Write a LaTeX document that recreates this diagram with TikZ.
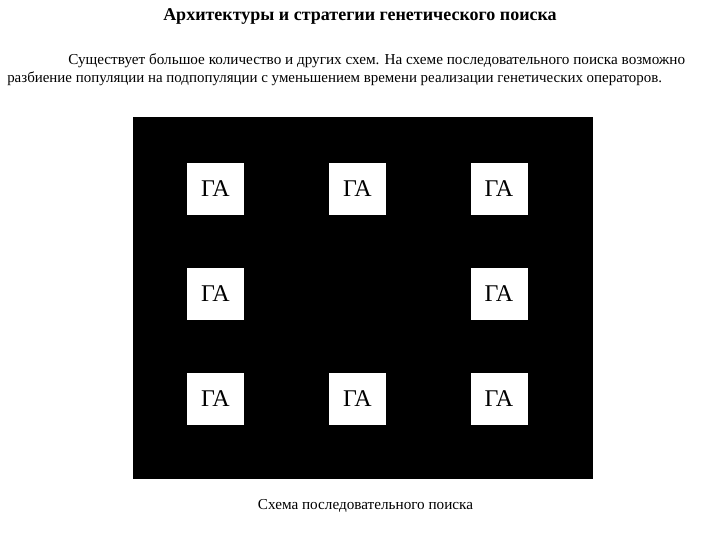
\documentclass[tikz,border=0pt]{standalone}
\usepackage{fontspec}
\setmainfont{Liberation Serif}
\begin{document}
\begin{tikzpicture}[x=0.75pt,y=-0.75pt,
  txt/.style={inner sep=0pt,anchor=base west},
  gabox/.style={fill=white,draw=none,minimum width=57*0.75pt,minimum height=52*0.75pt,inner sep=0pt,font=\fontsize{18}{20}\selectfont}]
\useasboundingbox (0,0) rectangle (720,540);
\node[inner sep=0pt,anchor=base,font=\fontsize{13.5}{15}\selectfont\bfseries] (title) at (360,20) {Архитектуры и стратегии генетического поиска};
\node[txt,font=\fontsize{11.4}{13}\selectfont] (l1) at (68,64) {Существует большое количество и других схем. На схеме последовательного поиска возможно};
\node[txt,font=\fontsize{11.2}{13}\selectfont] (l2) at (7,82) {разбиение популяции на подпопуляции с уменьшением времени реализации генетических операторов.};
\fill (133,117) rectangle (593,479);
\node[gabox] (g11) at (215.5,188.5) {ГА};
\node[gabox] (g12) at (357.5,188.5) {ГА};
\node[gabox] (g13) at (499,188.5) {ГА};
\node[gabox] (g21) at (215.5,294) {ГА};
\node[gabox] (g23) at (499,294) {ГА};
\node[gabox] (g31) at (215.5,399) {ГА};
\node[gabox] (g32) at (357.5,399) {ГА};
\node[gabox] (g33) at (499,399) {ГА};
\node[inner sep=0pt,anchor=base,font=\fontsize{11.4}{13}\selectfont] (cap) at (365.5,509) {Схема последовательного поиска};
\end{tikzpicture}
\end{document}
